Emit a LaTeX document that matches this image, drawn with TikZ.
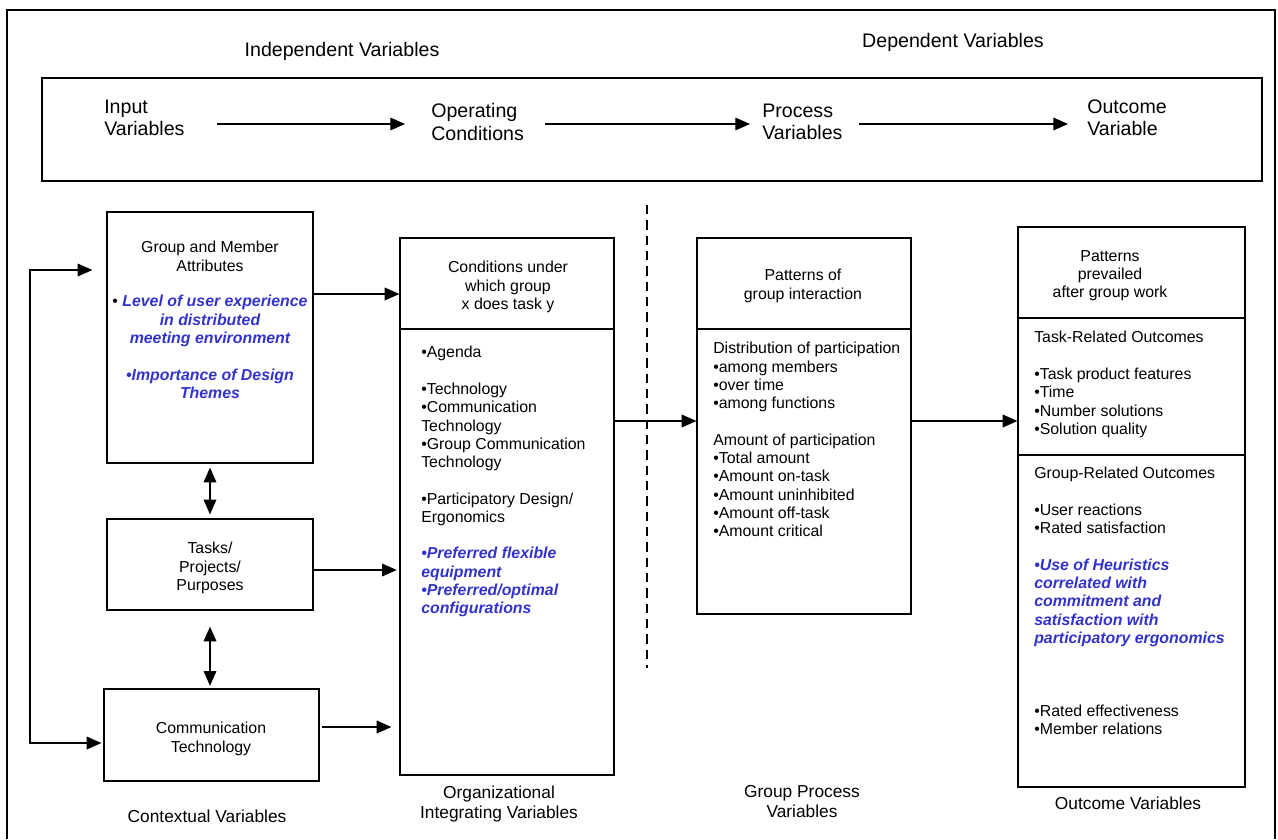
\documentclass[tikz,border=0pt]{standalone}
\usepackage{fontspec}
\setmainfont{Liberation Sans}
\usetikzlibrary{arrows.meta,fit,calc}
\definecolor{hlblue}{RGB}{50,50,205}
\newcommand{\emphb}[1]{{\color{hlblue}\bfseries\itshape #1}}

\begin{document}
\begin{tikzpicture}[x=0.75pt,y=-0.75pt,
  box/.style={draw, line width=0.9pt, inner sep=0pt},
  tip/.tip={Triangle[length=11pt,width=9.5pt]},
  arr/.style={line width=0.9pt, -tip},
  dblarr/.style={line width=0.9pt, tip-tip},
  body/.style={inner sep=0pt, font=\fontsize{11.9}{13.7}\selectfont, execute at begin node=\strut},
  lbody/.style={body, align=left, anchor=north west},
  cbody/.style={body, align=center, anchor=north},
  head/.style={inner sep=0pt, font=\fontsize{14.7}{16.9}\selectfont, execute at begin node=\strut, align=left, anchor=north west},
  foot/.style={inner sep=0pt, font=\fontsize{13}{15}\selectfont, execute at begin node=\strut, align=center, anchor=north},
]
\useasboundingbox (0,0) rectangle (1278,839);

% outer frame and the top banner
\draw[line width=1.5pt] (7,839) -- (7,10) -- (1275,10) -- (1275,839);
\node[box, fit={(42,78) (1262,181)}] (banner) {};

\node[head, anchor=north] (indep) at (342,40.5) {Independent Variables};
\node[head, anchor=north] (dep) at (953,31.5) {Dependent Variables};

\node[head] (inp) at (104,99.5) {Input\\Variables};
\node[head] (opc) at (431,103.5) {Operating\\Conditions};
\node[head] (prv) at (762,103.5) {Process\\Variables};
\node[head] (ouv) at (1087,99.5) {Outcome\\Variable};

\draw[arr, shorten <=24pt, shorten >=19.5pt] (inp.east |- 0,124) -- (opc.west |- 0,124);
\draw[arr, shorten <=15.75pt, shorten >=9pt] (opc.east |- 0,124) -- (prv.west |- 0,124);
\draw[arr, shorten <=12pt, shorten >=14.25pt] (prv.east |- 0,124) -- (ouv.west |- 0,124);

% contextual variables
\node[box, fit={(107,212) (313,463)}] (gm) {};
\node[box, fit={(107,519) (313,610)}] (tasks) {};
\node[box, fit={(104,689) (319,781)}] (comm) {};

\node[cbody] (gmh) at (210,241.2) {Group and Member\\Attributes};
\node[cbody] (gmb) at (210,295.2) {\textbullet{} \emphb{Level of user experience}\\
  \emphb{in distributed}\\\emphb{meeting environment}\\[13.7pt]
  \emphb{\textbullet Importance of Design}\\\emphb{Themes}};
\node[cbody] (tasksT) at (210,542.2) {Tasks/\\Projects/\\Purposes};
\node[cbody] (commT) at (211,722.2) {Communication\\Technology};

\draw[dblarr, shorten <=3pt, shorten >=3pt] (gm.south) -- (tasks.north);
\draw[dblarr, shorten <=12pt, shorten >=2pt] (tasks.south) -- (tasks.south |- comm.north);
\draw[dblarr] ($(gm.west |- 0,270)+(-14,0)$) -- (30,270) -- (30,743) -- ($(comm.west |- 0,743)+(-2,0)$);

% organizational integrating variables
\node[box, fit={(400,238) (614,775)}] (mid) {};
\draw[line width=0.9pt] (mid.west |- 0,329) -- (mid.east |- 0,329);
\node[cbody] (midh) at (508,261.2) {Conditions under\\which group\\x does task y};
\node[lbody] (midb) at (421,346.2) {\textbullet Agenda\\[13.7pt]
  \textbullet Technology\\\textbullet Communication\\Technology\\
  \textbullet Group Communication\\Technology\\[13.7pt]
  \textbullet Participatory Design/\\Ergonomics\\[13.7pt]
  \emphb{\textbullet Preferred flexible}\\\emphb{equipment}\\
  \emphb{\textbullet Preferred/optimal}\\\emphb{configurations}};

\draw[arr] (gm.east |- 0,294) -- (mid.west |- 0,294);
\draw[arr, shorten >=2pt] (tasks.east |- 0,570) -- (mid.west |- 0,570);
\draw[arr, shorten <=1.5pt, shorten >=6pt] (comm.east |- 0,727) -- (mid.west |- 0,727);

% independent / dependent split
\draw[line width=0.9pt, dash pattern=on 7pt off 4.5pt] (647,205) coordinate (dtop) -- (647,668) coordinate (dbot);

% group process variables
\node[box, fit={(697,238) (911,614)}] (proc) {};
\draw[line width=0.9pt] (proc.west |- 0,329) -- (proc.east |- 0,329);
\node[cbody] (proch) at (803,269.2) {Patterns of\\group interaction};
\node[lbody] (procb) at (713,342.2) {Distribution of participation\\
  \textbullet among members\\\textbullet over time\\\textbullet among functions\\[13.7pt]
  Amount of participation\\\textbullet Total amount\\\textbullet Amount on-task\\
  \textbullet Amount uninhibited\\\textbullet Amount off-task\\\textbullet Amount critical};

\draw[arr] (mid.east |- 0,421) -- (proc.west |- 0,421);

% outcome variables
\node[box, fit={(1018,227) (1245,787)}] (out) {};
\draw[line width=0.9pt] (out.west |- 0,318) -- (out.east |- 0,318);
\draw[line width=0.9pt] (out.west |- 0,455) -- (out.east |- 0,455);
\node[cbody] (outh) at (1110,250.2) {Patterns\\prevailed\\after group work};
\node[lbody] (outt) at (1034,331.2) {Task-Related Outcomes\\[13.7pt]
  \textbullet Task product features\\\textbullet Time\\\textbullet Number solutions\\\textbullet Solution quality};
\node[lbody] (outg) at (1034,467.2) {Group-Related Outcomes\\[13.7pt]
  \textbullet User reactions\\\textbullet Rated satisfaction\\[13.7pt]
  \emphb{\textbullet Use of Heuristics}\\\emphb{correlated with}\\\emphb{commitment and}\\
  \emphb{satisfaction with}\\\emphb{participatory ergonomics}\\[41.1pt]
  \textbullet Rated effectiveness\\\textbullet Member relations};

\draw[arr] (proc.east |- 0,421) -- (out.west |- 0,421);

% column captions
\node[foot] (capA) at (207,808.5) {Contextual Variables};
\node[foot] (capB) at (499,785.5) {Organizational\\Integrating Variables};
\node[foot] (capC) at (802,785.5) {Group Process\\Variables};
\node[foot] (capD) at (1128,795.5) {Outcome Variables};
\end{tikzpicture}
\end{document}
